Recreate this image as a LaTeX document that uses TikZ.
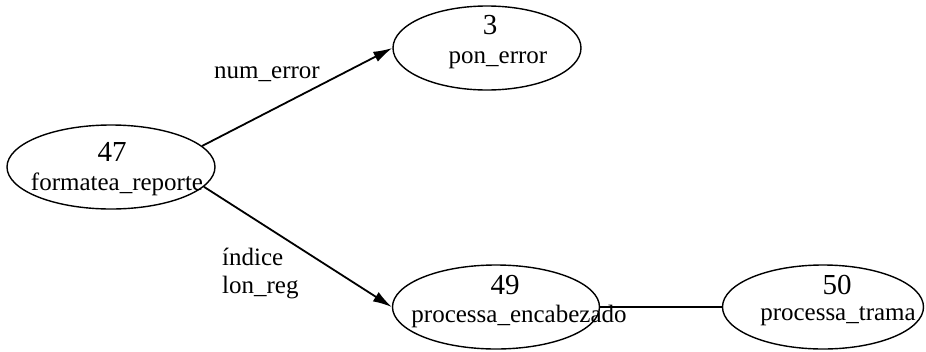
\documentclass[tikz,border=0pt]{standalone}
\usepackage{fontspec}
\setmainfont{Liberation Serif}
\usetikzlibrary{shapes.geometric,arrows.meta}
\tikzset{
  proc/.style={draw, ellipse, line width=1.4pt, inner sep=0pt},
  num/.style={inner sep=0pt, font=\fontsize{29}{32}\selectfont},
  lab/.style={inner sep=0pt, font=\fontsize{25}{28}\selectfont},
  flow/.style={line width=1.8pt, -{Latex[length=19pt,width=11pt]}},
  link/.style={line width=1.8pt}
}
\begin{document}
\begin{tikzpicture}[x=1pt,y=-1pt]
\useasboundingbox (0,0) rectangle (926,351);
% nodes
\node[proc, minimum width=208pt, minimum height=84pt] (e47) at (111,167) {};
\node[proc, minimum width=188pt, minimum height=84pt] (e3) at (487,48) {};
\node[proc, minimum width=207pt, minimum height=84pt] (e49) at (496,307) {};
\node[proc, minimum width=201pt, minimum height=84pt] (e50) at (823,307) {};
% texts
\node[num] (n47) at (112,152) {47};
\node[lab] (l47) at (117,184) {formatea\_reporte};
\node[num] (n3) at (490,25) {3};
\node[lab] (l3) at (498,60) {pon\_error};
\node[num] (n49) at (505,285) {49};
\node[lab] (l49) at (519,316) {processa\_encabezado};
\node[num] (n50) at (837,285) {50};
\node[lab] (l50) at (838,316) {processa\_trama};
% edge labels
\node[lab] (t1) at (267,74) {num\_error};
\node[lab, anchor=west, align=left] (t2) at (222,274) {índice\\lon\_reg};
% connectors
\draw[flow] (e47.13) -- (e3.west);
\draw[flow] (e47.-12) -- (e49.west);
\draw[link] (e49.east) -- (e50.west);
\end{tikzpicture}
\end{document}
